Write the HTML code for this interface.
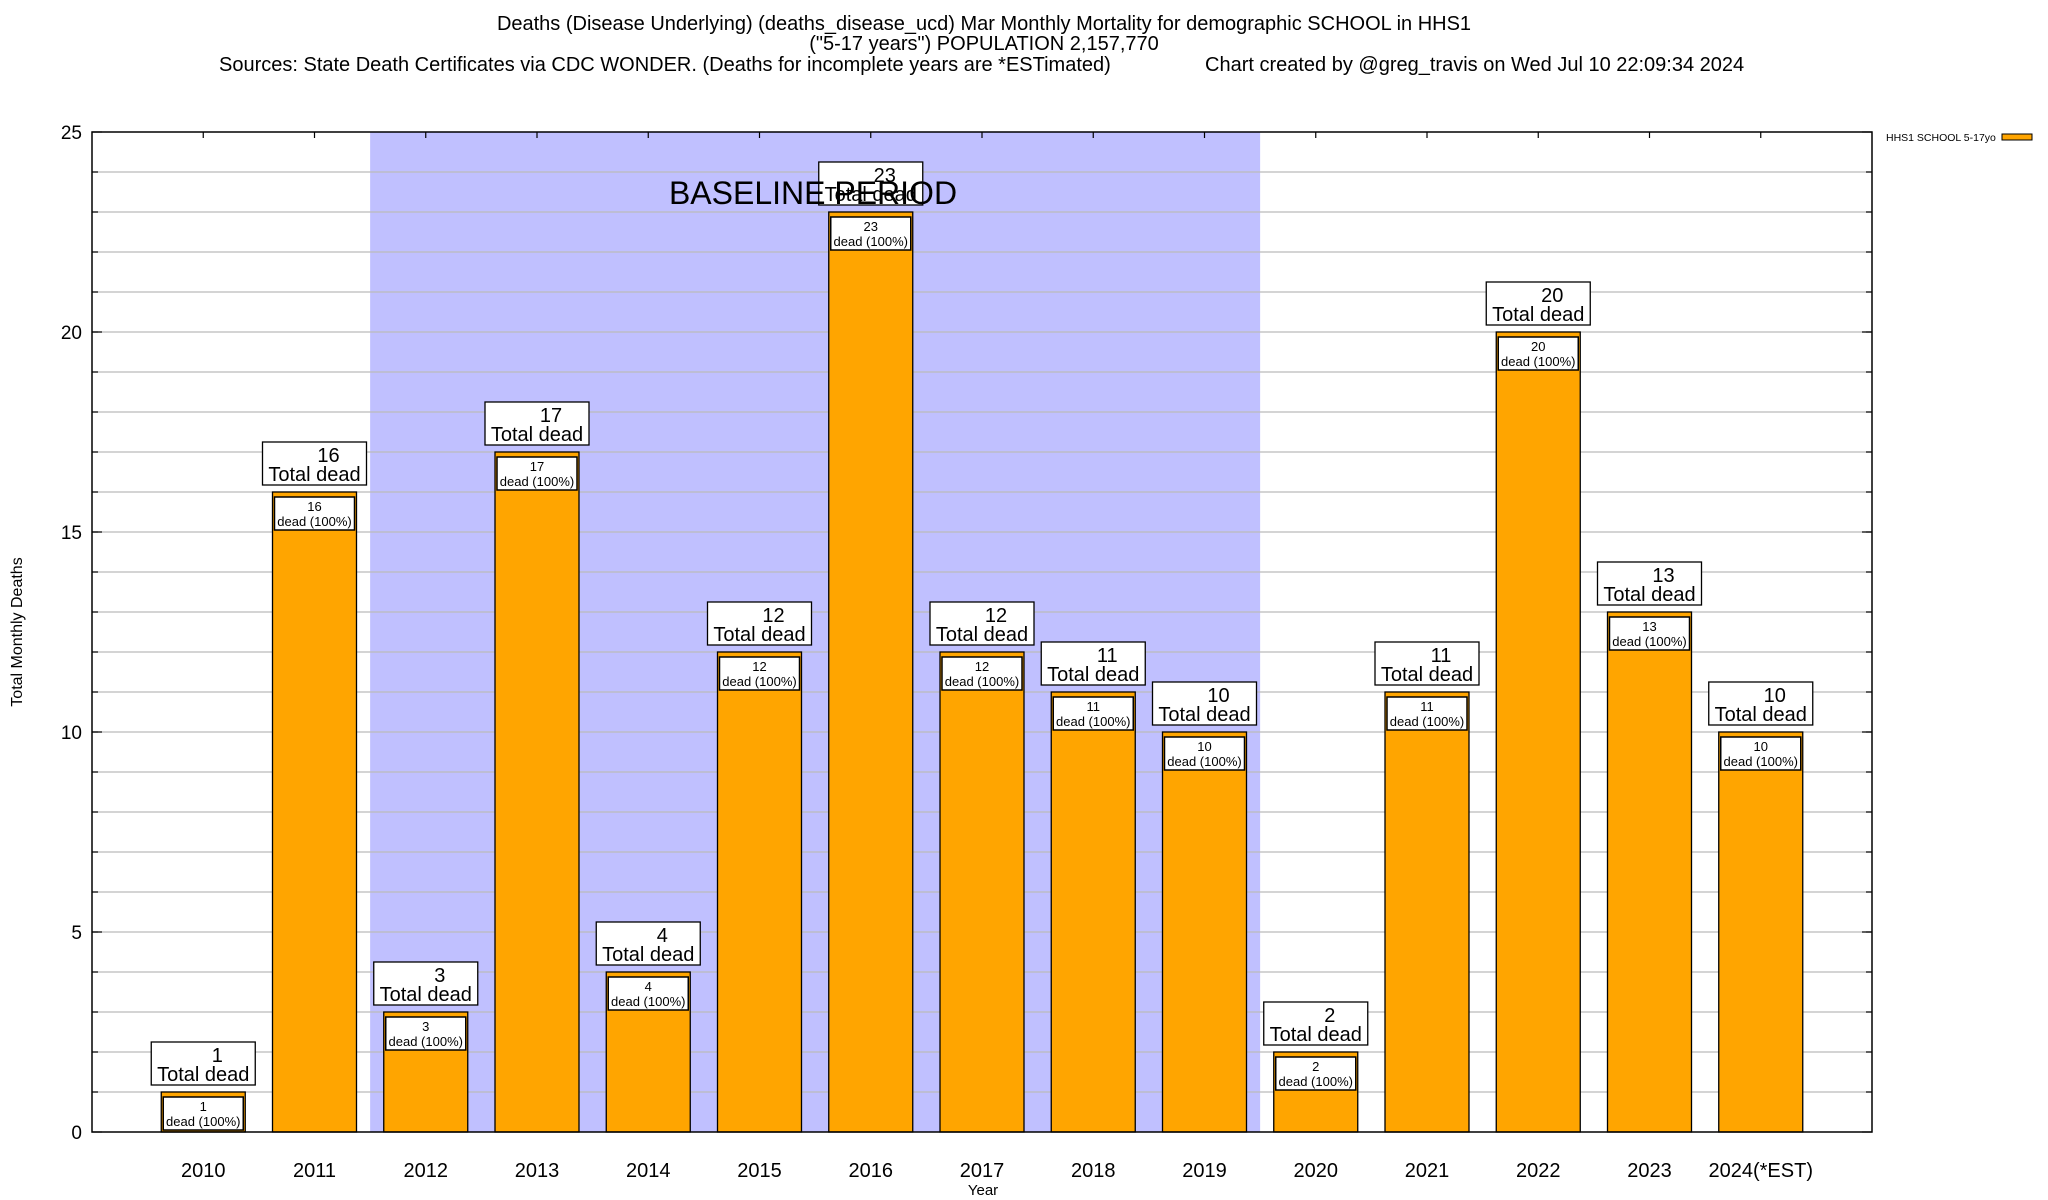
<!DOCTYPE html>
<html><head><meta charset="utf-8"><style>
html,body{margin:0;padding:0;background:#fff;}
svg{display:block;font-family:"Liberation Sans",Arial,sans-serif;}
</style></head><body>
<svg id="chart" width="2048" height="1200" viewBox="0 0 2048 1200">
<g id="titles">
<text x="984" y="30" font-size="20" text-anchor="middle">Deaths (Disease Underlying) (deaths_disease_ucd) Mar Monthly Mortality for demographic SCHOOL in HHS1</text>
<text x="984" y="50" font-size="20" text-anchor="middle">("5-17 years") POPULATION 2,157,770</text>
<text x="219" y="71" font-size="20">Sources: State Death Certificates via CDC WONDER. (Deaths for incomplete years are *ESTimated)</text>
<text x="1205" y="71" font-size="20">Chart created by @greg_travis on Wed Jul 10 22:09:34 2024</text>
</g>
<g id="plot"></g>
</svg>
<script>
const categories = ["2010","2011","2012","2013","2014","2015","2016","2017","2018","2019","2020","2021","2022","2023","2024(*EST)"];
const deaths = [1,16,3,17,4,12,23,12,11,10,2,11,20,13,10];
const yTicks = [0,5,10,15,20,25];
const baselineStart = 1.5, baselineEnd = 9.5;

const L=92, R=1872, T=132, B=1132, XMIN=-1, XMAX=15, YMAX=25;
const xs = v => L + (v - XMIN) * (R - L) / (XMAX - XMIN);
const ys = v => B - v * (B - T) / YMAX;
const NS = "http://www.w3.org/2000/svg";
const g = document.getElementById('plot');
function mk(tag, attrs, parent, txt){
  const e = document.createElementNS(NS, tag);
  for (const k in attrs) e.setAttribute(k, attrs[k]);
  if (txt !== undefined) e.textContent = txt;
  (parent || g).appendChild(e);
  return e;
}
let e = mk('rect',{x:xs(baselineStart),y:T,width:xs(baselineEnd)-xs(baselineStart),height:B-T,fill:'#c0c0ff'});


for (let v=1; v<YMAX; v++){
  e = mk('line',{x1:L,x2:R,y1:ys(v),y2:ys(v),stroke:'#bbbbbb','stroke-width':1.3});
  
  
  mk('line',{x1:L,x2:L+6,y1:ys(v),y2:ys(v),stroke:'#000','stroke-width':1.2});
  mk('line',{x1:R-6,x2:R,y1:ys(v),y2:ys(v),stroke:'#000','stroke-width':1.2});
}
yTicks.forEach(v=>{
  e = mk('text',{x:82,y:ys(v)+7,'font-size':19,'text-anchor':'end'},g,String(v));
  
  
  mk('line',{x1:L,x2:L+10,y1:ys(v),y2:ys(v),stroke:'#000','stroke-width':1.2});
  mk('line',{x1:R-10,x2:R,y1:ys(v),y2:ys(v),stroke:'#000','stroke-width':1.2});
});
const bw = 84;
categories.forEach((c,i)=>{
  const cx = xs(i), top = ys(deaths[i]);
  e = mk('rect',{x:cx-bw/2,y:top,width:bw,height:B-top,fill:'#ffa500',stroke:'#000','stroke-width':1.3});
  
  
  const ib = mk('rect',{x:cx-bw/2+2,y:top+5,width:bw-4,height:33,fill:'#fff',stroke:'#000','stroke-width':1.5});
  
  
  e = mk('text',{x:cx,y:top+19,'font-size':13,'text-anchor':'middle'},g,String(deaths[i]));
  
  
  e = mk('text',{x:cx,y:top+34,'font-size':13,'text-anchor':'middle'},g,'dead (100%)');
  
  
  const ob = mk('rect',{x:cx-52,y:top-50,width:104,height:43,fill:'#fff',stroke:'#000','stroke-width':1.3});
  
  
  e = mk('text',{x:cx+14,y:top-30,'font-size':20,'text-anchor':'middle'},g,String(deaths[i]));
  
  
  e = mk('text',{x:cx,y:top-11,'font-size':20,'text-anchor':'middle'},g,'Total dead');
  
  
  e = mk('text',{x:cx,y:1177,'font-size':20,'text-anchor':'middle'},g,c);
  
  
  mk('line',{x1:cx,x2:cx,y1:T,y2:T+6,stroke:'#000','stroke-width':1.2});
});
e = mk('text',{x:813,y:204,'font-size':32,'text-anchor':'middle'},g,'BASELINE PERIOD');


e = mk('rect',{x:L,y:T,width:R-L,height:B-T,fill:'none',stroke:'#000','stroke-width':1.5});


e = mk('text',{x:983,y:1195,'font-size':15,'text-anchor':'middle'},g,'Year');


e = mk('text',{x:0,y:0,'font-size':16,'text-anchor':'middle',transform:'translate(22,632) rotate(-90)'},g,'Total Monthly Deaths');


e = mk('text',{x:1886,y:141,'font-size':10.5},g,'HHS1 SCHOOL 5-17yo');


e = mk('rect',{x:2002,y:134,width:30,height:6,fill:'#ffa500',stroke:'#000','stroke-width':1});


</script>
</body></html>
